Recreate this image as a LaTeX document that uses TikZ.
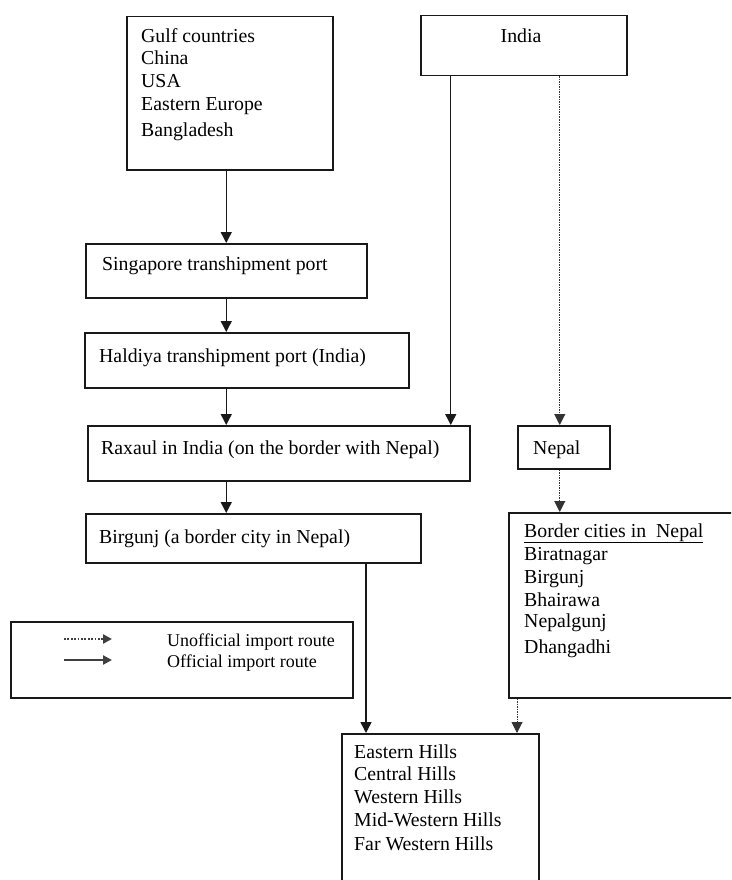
\documentclass[tikz,border=0pt]{standalone}
\usepackage{fontspec}
\setmainfont{Liberation Serif}
\usetikzlibrary{arrows.meta}
\begin{document}
\begin{tikzpicture}[x=1pt,y=-1pt,
  box/.style={draw=black!90,line width=1.5pt,inner sep=0pt,anchor=north west},
  txt/.style={anchor=base west,inner sep=0pt,font=\fontsize{19.8}{23}\selectfont},
  ltxt/.style={anchor=base west,inner sep=0pt,font=\fontsize{18}{21}\selectfont},
  official/.style={draw=black!90,line width=1.4pt,-{Triangle[width=11pt,length=11pt]}},
  unofficial/.style={draw=black!80,line width=1pt,dash pattern=on 1.5pt off 1pt,-{Triangle[width=11pt,length=11pt]}},
  legofficial/.style={draw=black!75,line width=2.4pt,-{Triangle[width=9pt,length=9pt]}},
  legunofficial/.style={draw=black!75,line width=2.2pt,dash pattern=on 1.8pt off 1.6pt,-{Triangle[width=9pt,length=9pt]}}]
\useasboundingbox (0,0) rectangle (731,880);
\clip (0,0) rectangle (731,880);
\fill[white] (0,0) rectangle (731,880);
% boxes
\node[box,minimum width=206pt,minimum height=153pt] (gulf) at (126,16) {};
\node[box,minimum width=206pt,minimum height=60pt] (india) at (420,15) {};
\node[box,minimum width=281pt,minimum height=54pt] (sing) at (85,243) {};
\node[box,minimum width=324pt,minimum height=55pt] (hald) at (84,332) {};
\node[box,minimum width=382pt,minimum height=55pt] (rax) at (87,425) {};
\node[box,minimum width=92pt,minimum height=43pt] (nepal) at (517,425) {};
\node[box,minimum width=335pt,minimum height=49pt] (birg) at (85,513) {};
\node[box,minimum width=240pt,minimum height=185pt] (border) at (508,512) {};
\node[box,minimum width=342pt,minimum height=76pt] (legend) at (10,621) {};
\node[box,minimum width=197pt,minimum height=170pt] (hills) at (341,733) {};
% texts
\node[txt] (g1) at (141,43) {Gulf countries};
\node[txt] (g2) at (141,65) {China};
\node[txt] (g3) at (141,88) {USA};
\node[txt] (g4) at (141,111) {Eastern Europe};
\node[txt] (g5) at (141,136) {Bangladesh};
\node[txt,anchor=base] (i1) at (521,43) {India};
\node[txt] (s1) at (102,270) {Singapore transhipment port};
\node[txt] (h1) at (99,362) {Haldiya transhipment port (India)};
\node[txt] (r1) at (101,454) {Raxaul in India (on the border with Nepal)};
\node[txt] (n1) at (533,454) {Nepal};
\node[txt] (b1) at (99,543) {Birgunj (a border city in Nepal)};
\node[txt] (c0) at (524,537) {\underline{Border cities in\ \ Nepal}};
\node[txt] (c1) at (524,560) {Biratnagar};
\node[txt] (c2) at (524,583) {Birgunj};
\node[txt] (c3) at (524,606) {Bhairawa};
\node[txt] (c4) at (524,627) {Nepalgunj};
\node[txt] (c5) at (524,653) {Dhangadhi};
\node[ltxt] (l1) at (167,646) {Unofficial import route};
\node[ltxt] (l2) at (167,667) {Official import route};
\node[txt] (e1) at (354,758) {Eastern Hills};
\node[txt] (e2) at (354,780) {Central Hills};
\node[txt] (e3) at (354,803) {Western Hills};
\node[txt] (e4) at (354,826) {Mid-Western Hills};
\node[txt] (e5) at (354,850) {Far Western Hills};
% connectors
\draw[official] (gulf.south -| sing.north) -- (sing.north);
\draw[official] (sing.south) -- (sing.south |- hald.north);
\draw[official] (hald.south -| sing.south) -- (rax.north -| sing.south);
\draw[official] (rax.south -| sing.south) -- (birg.north -| sing.south);
\draw[official] ([xshift=-73pt]india.south) -- ([xshift=-73pt]india.south |- rax.north);
\draw[unofficial] ([xshift=36pt]india.south) -- ([xshift=36pt]india.south |- nepal.north);
\draw[unofficial] ([xshift=-4pt]nepal.south) -- ([xshift=-4pt]nepal.south |- border.north);
\draw[official] ([xshift=25pt]hills.north west |- birg.south) -- ([xshift=25pt]hills.north west);
\draw[unofficial] ([xshift=9pt]border.south west) -- ([xshift=9pt]border.south west |- hills.north);
% legend samples
\coordinate (la) at (64,639);
\coordinate (lb) at (112,639);
\coordinate (lc) at (64,660);
\coordinate (ld) at (112,660);
\draw[legunofficial] (la) -- (lb);
\draw[legofficial] (lc) -- (ld);
\end{tikzpicture}
\end{document}
